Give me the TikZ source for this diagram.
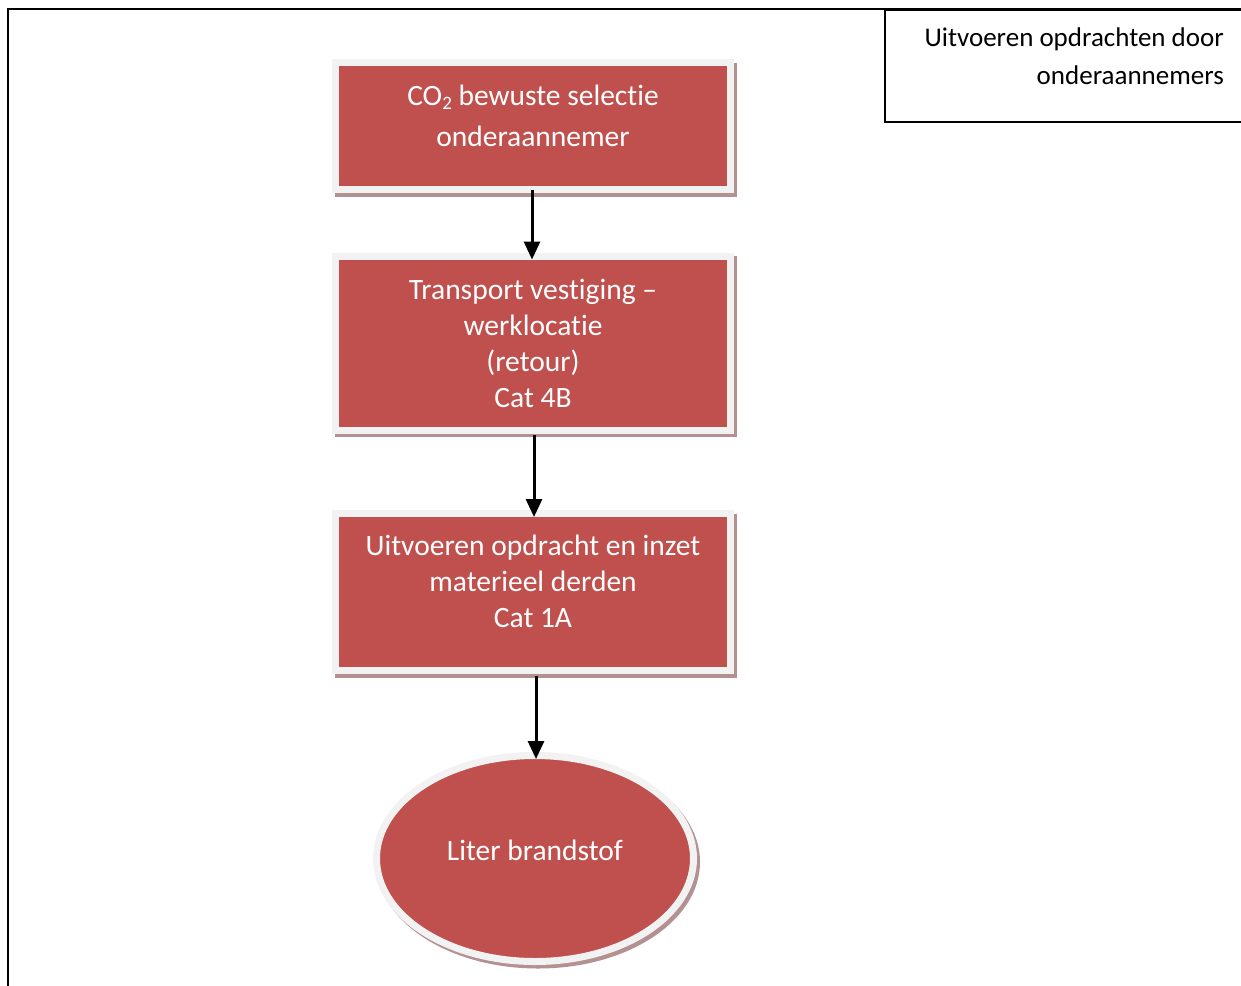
\documentclass[tikz,border=0pt]{standalone}
\usepackage{fontspec}
\setmainfont[Ligatures=NoCommon]{Carlito}
\usetikzlibrary{arrows.meta,shapes.geometric,shadows}
\definecolor{boxred}{HTML}{C0504D}
\definecolor{rim}{HTML}{F2F2F2}
\definecolor{shade}{HTML}{B39092}
\newcommand{\mysub}[1]{\raisebox{-4pt}{\fontsize{19}{19}\selectfont #1}}
\tikzset{
  redbox/.style={rectangle, fill=boxred, draw=rim, line width=7pt, outer sep=0pt,
    minimum width=395pt, text=white, align=center, inner sep=0pt,
    font=\fontsize{29.5}{36}\selectfont,
    drop shadow={shadow xshift=3pt, shadow yshift=-3.5pt, fill=shade, draw=shade, line width=7pt, opacity=1}},
  redoval/.style={ellipse, fill=boxred, draw=rim, line width=7pt, outer sep=0pt,
    minimum width=317pt, minimum height=206pt, text=white, inner sep=0pt, align=center,
    font=\fontsize{29.5}{36}\selectfont,
    drop shadow={shadow xshift=3pt, shadow yshift=-3.5pt, fill=shade, draw=shade, line width=7pt, opacity=1}},
  arr/.style={line width=3pt, -{Triangle[width=16pt,length=18pt]}},
  frame/.style={line width=2pt, black}
}
\begin{document}
\begin{tikzpicture}[x=1pt,y=-1pt]
\useasboundingbox[fill=white] (0,0) rectangle (1241,985);
% outer frame
\draw[frame] (8,990) -- (8,9) -- (1250,9);
% top-right label box
\node[draw, line width=2pt, rectangle, minimum width=370pt, minimum height=112pt,
  anchor=north west, inner sep=0pt] (lbl) at (884,9) {};
\node[anchor=east, align=right, font=\fontsize{27}{38}\selectfont, inner sep=0pt]
  (lbltext) at (1224,56) {Uitvoeren opdrachten door\\onderaannemers};
% boxes
\node[redbox, minimum height=127pt, font=\fontsize{29.5}{41}\selectfont] (b1) at (533,126)
  {CO\mysub{2} bewuste selectie\\onderaannemer\\[-20pt]};
\node[redbox, minimum height=174pt] (b2) at (533,343)
  {Transport vestiging --\\werklocatie\\(retour)\\Cat 4B};
\node[redbox, minimum height=157pt] (b3) at (533,592)
  {Uitvoeren opdracht en inzet\\materieel derden\\Cat 1A\\[-14pt]};
\node[redoval] (e) at (535,858.5) {Liter brandstof\\[-19pt]};
% arrows
\draw[arr, shorten >=-3.5pt] ([xshift=-1pt]b1.south) -- ([xshift=-1pt]b2.north);
\draw[arr, shorten <=5pt, shorten >=-3.5pt] ([xshift=1pt]b2.south) -- ([xshift=1pt]b3.north);
\draw[arr, shorten <=5pt, shorten >=-3.5pt] ([xshift=3pt]b3.south) -- ([xshift=3pt]b3.south |- e.north);
\end{tikzpicture}
\end{document}
